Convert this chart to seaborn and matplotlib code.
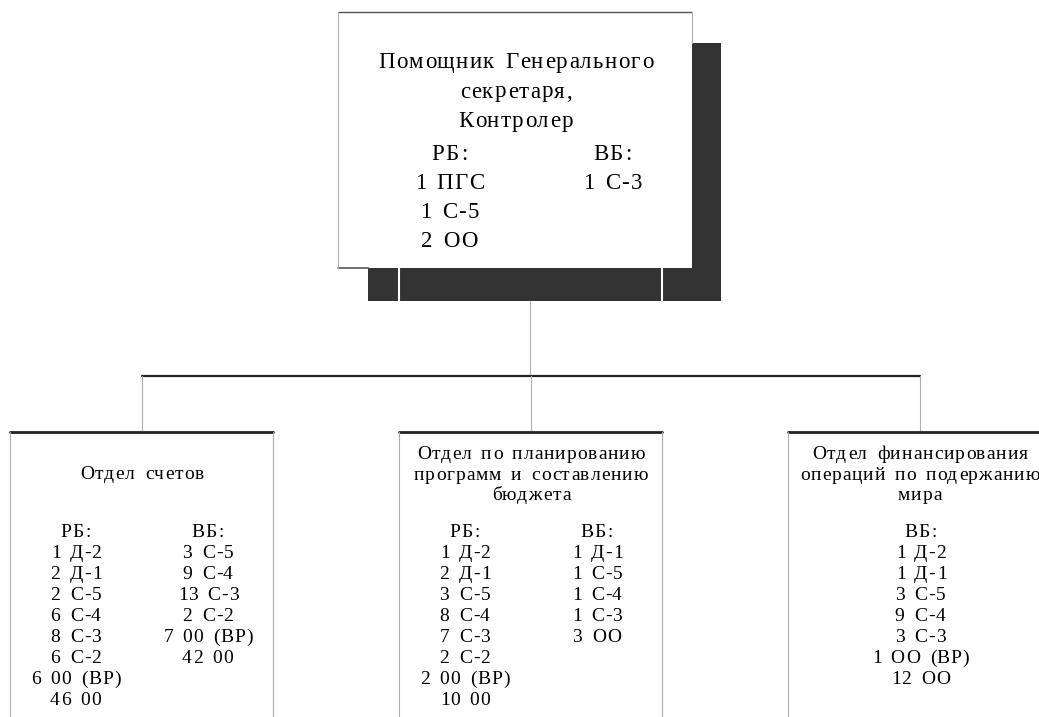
import matplotlib
matplotlib.use("Agg")
import matplotlib.pyplot as plt
from matplotlib.patches import Rectangle
from matplotlib import font_manager
from matplotlib.ft2font import FT2Font
import seaborn as sns

# --- content ---
top_title = ["Помощник Генерального", "секретаря,", "Контролер"]
top_rb = ["РБ:", "1 ПГС", "1 С-5", "2 ОО"]
top_vb = ["ВБ:", "1 С-3"]

dept_names = [
    ["Отдел счетов"],
    ["Отдел по планированию", "программ и составлению", "бюджета"],
    ["Отдел финансирования", "операций по подержанию", "мира"],
]
dept_rb = [
    ["РБ:", "1 Д-2", "2 Д-1", "2 С-5", "6 С-4", "8 С-3", "6 С-2", "6 00 (ВР)", "46 00"],
    ["РБ:", "1 Д-2", "2 Д-1", "3 С-5", "8 С-4", "7 С-3", "2 С-2", "2 00 (ВР)", "10 00"],
    [],
]
dept_vb = [
    ["ВБ:", "3 С-5", "9 С-4", "13 С-3", "2 С-2", "7 00 (ВР)", "42 00"],
    ["ВБ:", "1 Д-1", "1 С-5", "1 С-4", "1 С-3", "3 ОО"],
    ["ВБ:", "1 Д-2", "1 Д-1", "3 С-5", "9 С-4", "3 С-3", "1 ОО (ВР)", "12 ОО"],
]

sns.set_theme(style="white")
plt.rcParams['font.family'] = ['Liberation Serif', 'DejaVu Serif']

DPI = 100
fig = plt.figure(figsize=(10.39, 7.17), dpi=DPI)
ax = fig.add_axes([0, 0, 1, 1])
ax.set_xlim(0, 1039)
ax.set_ylim(717, 0)
ax.axis("off")

font_path = font_manager.findfont(font_manager.FontProperties(family="Liberation Serif"))


def spaced_text(xc, y, s, size, track, space_extra=3.0):
    # the original text is slightly letter-spaced, so place glyph by glyph
    ft = FT2Font(font_path)
    ft.set_size(size, DPI)
    glyphs = []
    for ch in s:
        g = ft.load_char(ord(ch))
        adv = g.linearHoriAdvance / 65536
        if ch == " ":
            adv += space_extra
        glyphs.append((ch, adv, g.horiBearingX / 64))
    total = sum(a for _, a, _ in glyphs) + track * (len(s) - 1)
    x = xc - total / 2
    for ch, adv, bear in glyphs:
        if ch != " ":
            ax.text(x + bear, y, ch, ha="left", va="baseline", fontsize=size,
                    color="black", zorder=4)
        x += adv + track


shadow = "#333333"
thin = "#b0b0b0"
dark = "#222222"

# top box with its shadow
ax.add_patch(Rectangle((691, 43), 30, 258, color=shadow, lw=0, zorder=1))
ax.add_patch(Rectangle((368, 267), 353, 34, color=shadow, lw=0, zorder=1))
for gx in [399, 662]:
    ax.plot([gx, gx], [268, 301], color="white", lw=1.5, zorder=2)
ax.add_patch(Rectangle((338, 12), 354, 256, facecolor="white", edgecolor="none", zorder=2))
ax.plot([338, 692], [12, 12], color="#555555", lw=1.0, zorder=3)
ax.plot([338, 368], [268, 268], color="#555555", lw=1.2, zorder=3)
ax.plot([338, 338], [12, 268], color=thin, lw=0.8, zorder=3)
ax.plot([692, 692], [12, 43], color=thin, lw=0.8, zorder=3)

top_font, top_track = 16.5, 1.25
for i, s in enumerate(top_title):
    spaced_text(515, 68 + i * 29.5, s, top_font, top_track)
for i, s in enumerate(top_rb):
    spaced_text(448, 160 + i * 29, s, top_font, top_track)
for i, s in enumerate(top_vb):
    spaced_text(611, 160 + i * 29, s, top_font, top_track)

# connectors
box_left = [10, 399, 788]
box_w = 263
centers = [l + box_w / 2 for l in box_left]
ax.plot([530, 530], [301, 376], color=thin, lw=0.8)
ax.plot([centers[0], centers[-1]], [376, 376], color=dark, lw=1.6)
for c in centers:
    ax.plot([c, c], [376, 432], color=thin, lw=0.8)

# department boxes
low_font, low_track = 14, 0.95
for k, left in enumerate(box_left):
    right = left + box_w
    ax.plot([left, right], [432, 432], color=dark, lw=2.0)
    ax.plot([left, left], [432, 717], color=thin, lw=0.8)
    ax.plot([right, right], [432, 717], color=thin, lw=0.8)
    names = dept_names[k]
    y0 = 479 if len(names) == 1 else 459
    for i, s in enumerate(names):
        spaced_text(centers[k], y0 + i * 20.5, s, low_font, low_track)
    if dept_rb[k]:
        for i, s in enumerate(dept_rb[k]):
            spaced_text(left + 65, 537 + i * 21, s, low_font, low_track)
        for i, s in enumerate(dept_vb[k]):
            spaced_text(left + 197, 537 + i * 21, s, low_font, low_track)
    else:
        for i, s in enumerate(dept_vb[k]):
            spaced_text(centers[k], 537 + i * 21, s, low_font, low_track)

fig.savefig("out.png", dpi=DPI)
